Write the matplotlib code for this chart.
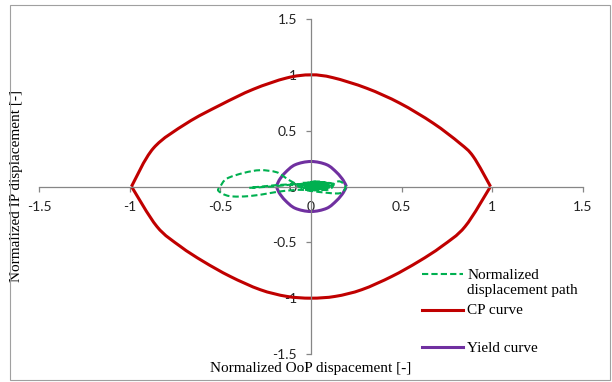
#!/usr/bin/env python3
"""Normalized displacement path against the CP and yield curves."""

import matplotlib

matplotlib.use("Agg")

import matplotlib.pyplot as plt
from matplotlib.legend import Legend
from matplotlib.lines import Line2D
from matplotlib.patches import PathPatch, Rectangle
from matplotlib.path import Path
from matplotlib.ticker import FormatStrFormatter, MultipleLocator

# Excel-ish palette
PATH_COLOR = "#00B050"
CP_COLOR = "#C00000"
YIELD_COLOR = "#7030A0"
AXIS_COLOR = "#868686"

SERIF = ["Liberation Serif", "DejaVu Serif"]
SANS = ["Lato", "DejaVu Sans"]

# CP curve, upper arc right tip -> left tip
cp_up_x = [0.99, 0.895, 0.82, 0.674, 0.49, 0.307, 0.12, 0.0,
           -0.134, -0.318, -0.50, -0.685, -0.869, -0.99]
cp_up_y = [0.0, 0.268, 0.388, 0.567, 0.746, 0.88, 0.975, 1.0,
           0.972, 0.871, 0.73, 0.567, 0.343, 0.0]
# lower arc left tip -> right tip
cp_lo_x = [-0.99, -0.85, -0.72, -0.594, -0.446, -0.28, -0.134, 0.0,
           0.134, 0.28, 0.446, 0.594, 0.72, 0.85, 0.99]
cp_lo_y = [0.0, -0.358, -0.537, -0.671, -0.805, -0.924, -0.984, -1.0,
           -0.984, -0.924, -0.805, -0.671, -0.537, -0.358, 0.0]

# Yield curve, upper and lower arcs
yield_up_x = [0.195, 0.178, 0.142, 0.087, 0.0, -0.087, -0.142, -0.176, -0.19]
yield_up_y = [0.0, 0.055, 0.125, 0.195, 0.224, 0.195, 0.125, 0.055, 0.0]
yield_lo_x = [-0.19, -0.176, -0.142, -0.087, 0.0, 0.087, 0.142, 0.178, 0.195]
yield_lo_y = [0.0, -0.055, -0.125, -0.195, -0.224, -0.195, -0.125, -0.055, 0.0]

# Normalized displacement path
path_x = [0.0, 0.05, -0.04, 0.07, -0.06, 0.1, 0.02, -0.05, 0.12, 0.03,
          -0.07, 0.09, 0.13, 0.16, 0.19, 0.16, 0.05, -0.05, -0.15, -0.23,
          -0.34, -0.45, -0.51, -0.50, -0.465, -0.37, -0.28, -0.19, -0.14,
          -0.09, -0.03, 0.06, -0.03, 0.08, -0.13, -0.34, -0.22, -0.05,
          0.05, 0.12, 0.0, 0.08, -0.04, 0.1, 0.02, 0.07, -0.02, 0.11,
          0.04, -0.05, 0.09, 0.01]
path_y = [0.0, 0.04, 0.01, -0.03, 0.03, 0.02, -0.035, -0.01, 0.01, 0.045,
          0.0, -0.03, 0.03, 0.045, 0.0, -0.06, -0.05, -0.03, -0.04, -0.06,
          -0.086, -0.086, -0.04, 0.0, 0.07, 0.122, 0.146, 0.128, 0.078,
          0.03, 0.0, 0.035, -0.025, 0.01, 0.018, -0.012, 0.0, 0.02,
          -0.02, 0.025, 0.04, -0.03, 0.02, -0.01, 0.035, -0.02, -0.03,
          0.03, 0.0, 0.015, -0.015, 0.01]

W, H = 612, 382


def smooth_path(xs, ys):
    """Catmull-Rom style bezier through the points, like Excel's smoothed line."""
    pts = list(zip(xs, ys))
    n = len(pts)
    verts = [pts[0]]
    codes = [Path.MOVETO]
    for i in range(n - 1):
        p0 = pts[max(i - 1, 0)]
        p1 = pts[i]
        p2 = pts[i + 1]
        p3 = pts[min(i + 2, n - 1)]
        c1 = (p1[0] + (p2[0] - p0[0]) / 6, p1[1] + (p2[1] - p0[1]) / 6)
        c2 = (p2[0] - (p3[0] - p1[0]) / 6, p2[1] - (p3[1] - p1[1]) / 6)
        verts += [c1, c2, p2]
        codes += [Path.CURVE4] * 3
    return Path(verts, codes)


def draw_curve(ax, xs, ys, **kw):
    ax.add_patch(PathPatch(smooth_path(xs, ys), fill=False, **kw))


def legend_entry(ax, fig, handle, label, y_px, loc):
    leg = Legend(
        ax, [handle], [label],
        loc=loc,
        bbox_to_anchor=(422 / W, 1 - y_px / H),
        bbox_transform=fig.transFigure,
        frameon=False,
        prop={"family": SERIF, "size": 11},
        handlelength=2.7,
        handletextpad=0.25,
        borderpad=0,
        borderaxespad=0,
    )
    # keep the key next to the first line of a wrapped label
    for col in leg._legend_handle_box.get_children():
        for item in col.get_children():
            item.align = "top"
    ax.add_artist(leg)


def main():
    plt.rcParams["axes.unicode_minus"] = False
    plt.rcParams["font.family"] = SANS

    fig = plt.figure(figsize=(W / 100, H / 100), dpi=100)
    ax = fig.add_axes([39 / W, 28 / H, 544 / W, 335 / H])

    path_style = dict(color=PATH_COLOR, lw=1.5, ls=(0, (3, 1.5)))
    cp_style = dict(color=CP_COLOR, lw=2.2)
    yield_style = dict(color=YIELD_COLOR, lw=2.2)

    draw_curve(ax, cp_up_x, cp_up_y, zorder=2, **cp_style)
    draw_curve(ax, cp_lo_x, cp_lo_y, zorder=2, **cp_style)
    draw_curve(ax, yield_up_x, yield_up_y, zorder=2, **yield_style)
    draw_curve(ax, yield_lo_x, yield_lo_y, zorder=2, **yield_style)
    draw_curve(ax, path_x, path_y, zorder=3, **path_style)

    ax.set_xlim(-1.5, 1.5)
    ax.set_ylim(-1.5, 1.5)
    ax.xaxis.set_major_locator(MultipleLocator(0.5))
    ax.yaxis.set_major_locator(MultipleLocator(0.5))
    ax.xaxis.set_major_formatter(FormatStrFormatter("%g"))
    ax.yaxis.set_major_formatter(FormatStrFormatter("%g"))

    for side in ("top", "right"):
        ax.spines[side].set_visible(False)
    for side in ("left", "bottom"):
        ax.spines[side].set_position(("data", 0))
        ax.spines[side].set_color(AXIS_COLOR)
        ax.spines[side].set_linewidth(0.9)
    ax.tick_params(direction="out", length=3.6, width=0.9, color=AXIS_COLOR,
                   labelsize=10, labelcolor="#222222", pad=6.5)

    ax.set_xlabel("Normalized OoP dispacement [-]", family=SERIF, fontsize=11)
    ax.set_ylabel("Normalized IP displacement [-]", family=SERIF, fontsize=11)
    ax.xaxis.set_label_coords(0.5, -0.042)
    ax.xaxis.label.set_verticalalignment("center")
    ax.yaxis.set_label_coords(-0.042, 0.5)
    ax.yaxis.label.set_verticalalignment("center")

    legend_entry(ax, fig, Line2D([], [], **path_style),
                 "Normalized\ndisplacement path", 269, "upper left")
    legend_entry(ax, fig, Line2D([], [], **cp_style), "CP curve", 311, "center left")
    legend_entry(ax, fig, Line2D([], [], **yield_style), "Yield curve", 348, "center left")

    fig.patches.append(Rectangle((10 / W, 2 / H), 600 / W, 375 / H,
                                 transform=fig.transFigure, fill=False,
                                 edgecolor="#a0a0a0", lw=0.8))

    fig.savefig("out.png", dpi=100)


if __name__ == "__main__":
    main()
